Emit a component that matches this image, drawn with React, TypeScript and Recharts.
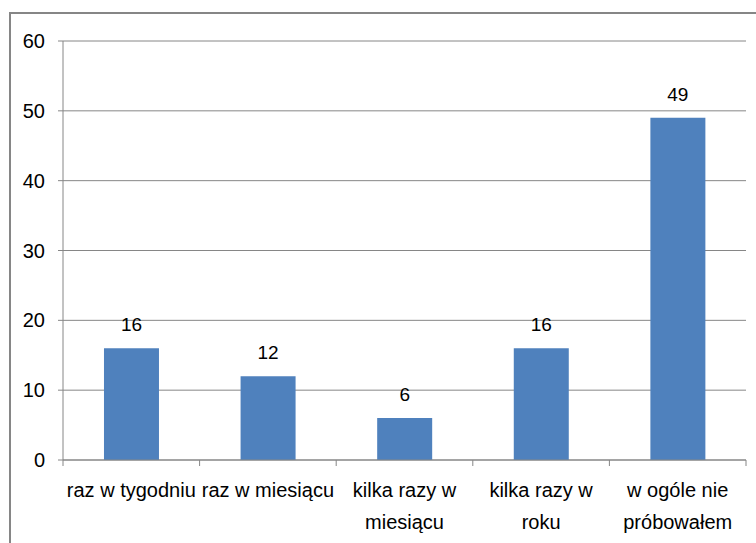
import { BarChart, Bar, XAxis, YAxis, CartesianGrid, LabelList } from "recharts"

const categories = [
  "raz w tygodniu",
  "raz w miesiącu",
  "kilka razy w\nmiesiącu",
  "kilka razy w\nroku",
  "w ogóle nie\npróbowałem",
]
const values = [16, 12, 6, 16, 49]
const yTicks = [0, 10, 20, 30, 40, 50, 60]

const data = categories.map((name, i) => ({ name, value: values[i] }))

const FONT = "'Liberation Sans', Arial, sans-serif"
const AXIS = "#868686"

function CategoryTick({ x, y, payload, index }: any) {
  const lines = String(payload.value).split("\n")
  const half = payload.offset ?? 0
  return (
    <g>
      <line x1={x - half} y1={y - 8} x2={x - half} y2={y - 2} stroke={AXIS} />
      {index === categories.length - 1 && (
        <line x1={x + half} y1={y - 8} x2={x + half} y2={y - 2} stroke={AXIS} />
      )}
      <text x={x} y={y + 29} textAnchor="middle" fontSize={20} fontFamily={FONT} fill="#000">
        {lines.map((l, i) => (
          <tspan key={i} x={x} dy={i === 0 ? 0 : 32}>
            {l}
          </tspan>
        ))}
      </text>
    </g>
  )
}

export default function App() {
  return (
    <div style={{ position: "absolute", left: 0, top: 0, width: 756, height: 543, background: "#fff", overflow: "hidden" }}>
      <div
        style={{
          position: "absolute",
          left: 9,
          top: 12,
          width: 800,
          height: 600,
          border: `2px solid ${AXIS}`,
        }}
      />
      <div style={{ position: "absolute", left: 0, top: 0 }}>
        <BarChart
          width={756}
          height={543}
          data={data}
          margin={{ top: 41, right: 10, left: 0, bottom: 0 }}
          barCategoryGap="30%"
        >
          <CartesianGrid vertical={false} stroke={AXIS} strokeWidth={1} />
          <XAxis
            dataKey="name"
            height={83}
            tickLine={false}
            axisLine={{ stroke: AXIS }}
            tick={<CategoryTick />}
            interval={0}
          />
          <YAxis
            width={63}
            domain={[0, 60]}
            ticks={yTicks}
            tickSize={5}
            tickMargin={13}
            tickLine={{ stroke: AXIS }}
            axisLine={{ stroke: AXIS }}
            tick={{ fontSize: 20, fontFamily: FONT, fill: "#000" }}
          />
          <Bar dataKey="value" fill="#4F81BD" isAnimationActive={false}>
            <LabelList dataKey="value" position="top" offset={17} fontSize={19} fontFamily={FONT} fill="#000" />
          </Bar>
        </BarChart>
      </div>
    </div>
  )
}
